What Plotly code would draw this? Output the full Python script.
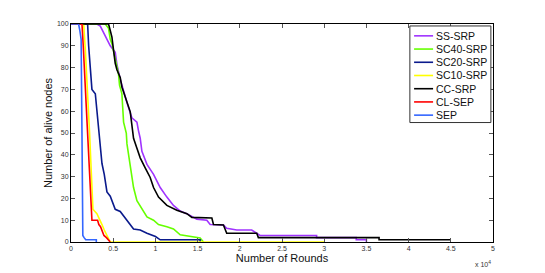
import plotly.graph_objects as go

names = ["SS-SRP", "SC40-SRP", "SC20-SRP", "SC10-SRP", "CC-SRP", "CL-SEP", "SEP"]
colors = ["#a033ff", "#66ff00", "#0a1a8c", "#ffff00", "#000000", "#ff0000", "#3366ff"]

ss_x = [0, 3070, 3470, 3860, 4260, 4650, 5240, 5440, 5830, 6230, 6630, 7210, 7810, 8000, 8200, 8400, 9000,
        9780, 10570, 11360, 12140, 12940, 13730, 14910, 16090, 16490, 18060, 18450, 19640, 21410, 22010,
        22400, 29100, 29100, 33800, 33800, 35000, 35000]
ss_y = [100, 100, 99, 96, 93, 90, 87, 81.5, 74.7, 68.7, 64, 57, 55, 51, 47.6, 41.6, 35.6,
        31, 25, 20.6, 16.8, 14.2, 13, 10.5, 10, 8, 7.8, 6.3, 5.5, 5.5, 4,
        3, 3, 2, 2, 1, 1, 0]

sc40_x = [0, 3860, 4060, 4450, 4650, 4850, 5240, 5630, 5750, 6030, 6230, 6430, 6550, 6630, 7020, 7410,
          7810, 8400, 9000, 9780, 10370, 11360, 12140, 12940, 14510, 15300, 15700]
sc40_y = [100, 100, 100, 98, 93, 91, 84, 77, 72, 68, 55, 51, 50, 45, 36, 25,
          19, 15, 11.5, 10, 8, 7, 6, 3.3, 2.5, 1.8, 0]

sc20_x = [0, 1970, 2090, 2280, 2480, 2880, 3080, 3270, 3470, 3670, 3940, 4260, 4650, 5040, 5240, 5830,
          6430, 7020, 7410, 8200, 9000, 10010, 10570, 15300, 15300]
sc20_y = [100, 100, 90, 79, 70, 68, 60, 51, 42, 36, 31, 23, 21, 17, 15, 14,
          11, 8, 6, 5.5, 4, 2.5, 1, 1, 0]

sc10_x = [0, 1500, 1700, 2000, 2200, 2450, 2600, 3070, 3470, 3670, 3940, 4260, 4650, 30000]
sc10_y = [100, 100, 88, 68, 50, 28, 15, 13, 10, 8, 5.5, 2.8, 0, 0]

cc_x = [0, 4450, 4650, 4850, 5040, 5240, 5440, 5830, 6040, 6430, 6820, 7020, 7300, 7410, 7810, 8200,
        8790, 9380, 9780, 10370, 11360, 12540, 13730, 14320, 16690, 16880, 18060, 18450, 22010, 22200,
        36500, 36500, 45000]
cc_y = [100, 100, 97, 94, 88, 82, 79, 75.5, 71, 66.5, 62.7, 59.7, 51, 47.6, 43, 38.6,
        34, 29.6, 25, 20.6, 16.8, 14.6, 13, 11.3, 11, 8, 7.8, 4, 4, 2,
        2, 1, 1]

cl_x = [0, 1300, 1450, 1700, 2000, 2200, 2370, 2480, 3150, 3300, 3500, 3700, 3900, 4200, 4400, 4650]
cl_y = [100, 100, 90, 70, 50, 30, 15, 10, 10, 8, 7, 5, 3, 2, 1, 0]

sep_x = [0, 900, 1050, 1200, 1300, 1330, 1400, 1550, 1750, 3000, 3000]
sep_y = [100, 100, 97, 93, 50, 6, 3, 2, 1, 1, 0]

xs = [ss_x, sc40_x, sc20_x, sc10_x, cc_x, cl_x, sep_x]
ys = [ss_y, sc40_y, sc20_y, sc10_y, cc_y, cl_y, sep_y]

x_ticks = [0, 5000, 10000, 15000, 20000, 25000, 30000, 35000, 40000, 45000, 50000]
x_tick_labels = ["0", "0.5", "1", "1.5", "2", "2.5", "3", "3.5", "4", "4.5", "5"]
y_ticks = [0, 10, 20, 30, 40, 50, 60, 70, 80, 90, 100]

FONT = "Liberation Sans, Arial, sans-serif"

fig = go.Figure()
for nm, c, x, y in zip(names, colors, xs, ys):
    fig.add_trace(go.Scatter(x=x, y=y, mode="lines", name=nm,
                             line=dict(color=c, width=1.6), showlegend=False))

axis_common = dict(showline=True, linecolor="black", linewidth=1, mirror="ticks",
                   ticks="inside", ticklen=4, tickcolor="#555", showgrid=False, zeroline=False,
                   tickfont=dict(family=FONT, size=7, color="#333"))

fig.update_xaxes(range=[0, 50000], tickvals=x_ticks, ticktext=x_tick_labels,
                 title=dict(text="Number of Rounds", font=dict(family=FONT, size=11, color="#111"), standoff=2),
                 **axis_common)
fig.update_yaxes(range=[0, 100], tickvals=y_ticks,
                 title=dict(text="Number of alive nodes", font=dict(family=FONT, size=11, color="#111"), standoff=2),
                 **axis_common)

# legend box (manual, MATLAB-style compact)
lx0, lx1, ly0, ly1 = 0.803, 0.995, 0.548, 0.991
fig.add_shape(type="rect", xref="paper", yref="paper", x0=lx0, x1=lx1, y0=ly0, y1=ly1,
              line=dict(color="#333", width=1), fillcolor="white")
for i, (nm, c) in enumerate(zip(names, colors)):
    py = 33 + 13.4 * i
    yp = (242 - py) / 221
    fig.add_shape(type="line", xref="paper", yref="paper", x0=0.813, x1=0.858, y0=yp, y1=yp,
                  line=dict(color=c, width=1.6))
    fig.add_annotation(xref="paper", yref="paper", x=0.861, y=yp, text=nm, showarrow=False,
                       xanchor="left", yanchor="middle", font=dict(family=FONT, size=10.5, color="#111"))

fig.add_annotation(xref="paper", yref="paper", x=1.0, y=-0.075, text="x 10<sup>4</sup>",
                   showarrow=False, xanchor="right", yanchor="top",
                   font=dict(family=FONT, size=7, color="#333"))

# page body adds an 8px offset; compensate so the plot area lands at the reference position
fig.update_layout(width=545, height=273, margin=dict(l=63, r=60, t=13, b=39),
                  paper_bgcolor="white", plot_bgcolor="white", showlegend=False)

fig.write_html("out.html")
